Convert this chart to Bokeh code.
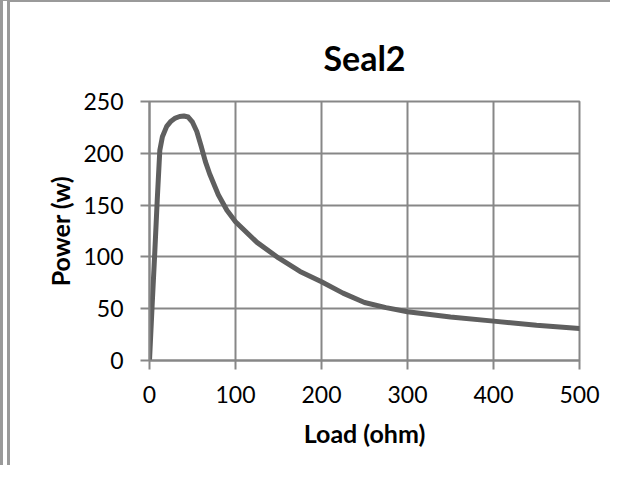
from bokeh.plotting import figure
from bokeh.embed import file_html
from bokeh.resources import INLINE
from bokeh.models import FixedTicker, Range1d

title_text = "Seal2"
x_label = "Load (ohm)"
y_label = "Power (w)"

load_ohm = [0, 3, 6, 9, 12, 15, 20, 25, 30, 35, 40, 45, 50, 55, 60, 65, 70, 80, 90, 100,
            125, 150, 175, 200, 225, 250, 275, 300, 350, 400, 450, 500]
power_w = [0, 52, 102, 155, 203, 216, 226, 231, 234, 235.5, 236, 235, 230, 221, 207, 192,
           180, 160, 145, 134, 114, 99, 86, 76, 65, 56, 51, 47, 42, 38, 34, 31]

x_ticks = [0, 100, 200, 300, 400, 500]
y_ticks = [0, 50, 100, 150, 200, 250]

FONT = "Lato"
GRID = "#878787"

p = figure(width=610, height=465, output_backend="svg", toolbar_location=None,
           x_range=Range1d(0, 500), y_range=Range1d(0, 250),
           min_border_left=139, min_border_right=41, min_border_top=99,
           min_border_bottom=107)
p.styles = {"border-left": "10px double #9a9a9a", "border-top": "2px solid #9a9a9a"}

p.line(load_ohm, power_w, line_color="#5f5f5f", line_width=5, line_join="round",
       line_cap="round")

p.title.text = title_text
p.title.text_font = FONT
p.title.text_font_size = "34px"
p.title.text_font_style = "bold"
p.title.text_color = "black"
p.title.align = "center"
p.title.vertical_align = "top"
p.title.standoff = 44

p.xaxis.ticker = FixedTicker(ticks=x_ticks)
p.yaxis.ticker = FixedTicker(ticks=y_ticks)
p.xaxis.axis_label = x_label
p.yaxis.axis_label = y_label

for ax in (p.xaxis, p.yaxis):
    ax.axis_line_color = GRID
    ax.axis_line_width = 2
    ax.major_tick_line_color = GRID
    ax.major_tick_line_width = 2
    ax.major_tick_out = 9
    ax.major_tick_in = 0
    ax.minor_tick_line_color = None
    ax.major_label_text_font = FONT
    ax.major_label_text_font_size = "23px"
    ax.major_label_text_color = "black"
    ax.axis_label_text_font = FONT
    ax.axis_label_text_font_size = "25px"
    ax.axis_label_text_font_style = "bold"
    ax.axis_label_text_color = "black"

p.xaxis.major_label_standoff = 16
p.yaxis.major_label_standoff = 17
p.xaxis.axis_label_standoff = 12
p.yaxis.axis_label_standoff = 5

p.xgrid.grid_line_color = GRID
p.ygrid.grid_line_color = GRID
p.xgrid.grid_line_width = 2
p.ygrid.grid_line_width = 2
p.outline_line_color = GRID
p.outline_line_width = 2
p.background_fill_color = "white"
p.border_fill_color = "white"

open("out.html", "w").write(file_html(p, INLINE))
